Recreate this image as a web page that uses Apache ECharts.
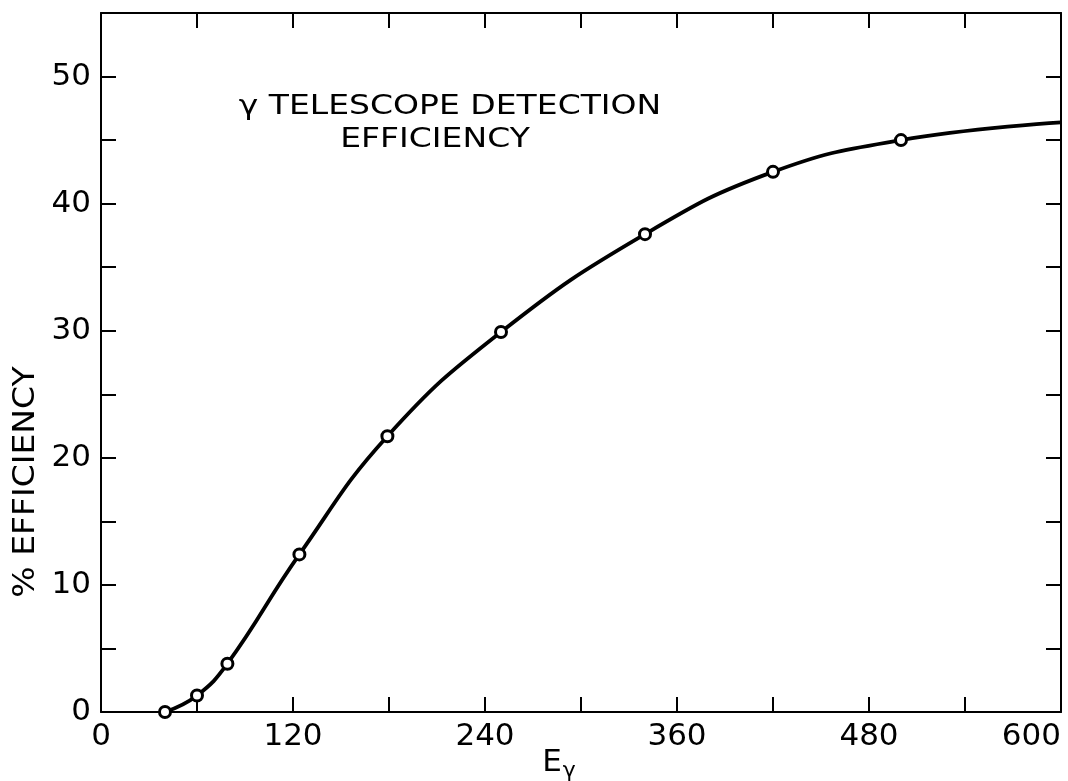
<!DOCTYPE html>
<html>
<head>
<meta charset="utf-8">
<script src="https://cdn.jsdelivr.net/npm/echarts@6/dist/echarts.min.js"></script>
<style>
  html, body { margin: 0; padding: 0; background: #fff; }
  #chart { width: 1068px; height: 781px; }
</style>
</head>
<body>
<div id="chart"></div>
<script>
// measured points (circles)
var energy = [40, 60, 79, 124, 179, 250, 340, 420, 500];
var efficiency = [0, 1.3, 3.8, 12.4, 21.7, 29.9, 37.6, 42.5, 45.0];
// where the drawn curve leaves the frame
var curveEndE = 600;
var curveEndEff = 46.4;

var xTicks = [0, 120, 240, 360, 480, 600];
var yTicks = [0, 10, 20, 30, 40, 50];

var FONT = '"DejaVu Sans", "Liberation Sans", sans-serif';

var points = energy.map(function (e, i) { return [e, efficiency[i]]; });
var curve = points.concat([[curveEndE, curveEndEff]]);

var lineColor = '#000';

function baseX(pos) {
    return {
        type: 'value',
        position: pos,
        min: 0,
        max: 600,
        interval: 60,
        splitLine: { show: false },
        axisLine: { show: true, onZero: false, lineStyle: { color: lineColor, width: 2 } },
        axisTick: { show: true, inside: true, length: 15, lineStyle: { color: lineColor, width: 2 } },
        axisLabel: {
            show: pos === 'bottom',
            margin: 9,
            color: '#000',
            fontFamily: FONT,
            fontSize: 31,
            alignMaxLabel: 'right',
            formatter: function (v) { return xTicks.indexOf(v) >= 0 ? String(v) : ''; }
        }
    };
}

function baseY(pos) {
    return {
        type: 'value',
        position: pos,
        min: 0,
        max: 55,
        interval: 5,
        splitLine: { show: false },
        axisLine: { show: true, onZero: false, lineStyle: { color: lineColor, width: 2 } },
        axisTick: { show: true, inside: true, length: 15, lineStyle: { color: lineColor, width: 2 } },
        axisLabel: {
            show: pos === 'left',
            margin: 10,
            color: '#000',
            fontFamily: FONT,
            fontSize: 31,
            formatter: function (v) { return yTicks.indexOf(v) >= 0 ? String(v) : ''; }
        }
    };
}

var chart = echarts.init(document.getElementById('chart'));
chart.setOption({
    backgroundColor: '#fff',
    animation: false,
    grid: { left: 101, right: 7, top: 13, bottom: 69, containLabel: false },
    xAxis: [baseX('bottom'), baseX('top')],
    yAxis: [baseY('left'), baseY('right')],
    graphic: [{
        type: 'text',
        x: 450,
        y: 107,
        scaleX: 1.27,
        style: {
            text: 'γ TELESCOPE DETECTION',
            font: '26px ' + FONT,
            fill: '#000',
            textAlign: 'center',
            textVerticalAlign: 'middle'
        }
    }, {
        type: 'text',
        x: 435,
        y: 140,
        scaleX: 1.27,
        style: {
            text: 'EFFICIENCY',
            font: '26px ' + FONT,
            fill: '#000',
            textAlign: 'center',
            textVerticalAlign: 'middle'
        }
    }, {
        type: 'text',
        x: 26,
        y: 482,
        rotation: Math.PI / 2,
        scaleX: 1.1,
        style: {
            text: '% EFFICIENCY',
            font: '30px ' + FONT,
            fill: '#000',
            textAlign: 'center',
            textVerticalAlign: 'middle'
        }
    }, {
        type: 'text',
        x: 559,
        y: 763,
        style: {
            text: '{e|E}{g|γ}',
            fill: '#000',
            textAlign: 'center',
            textVerticalAlign: 'middle',
            rich: {
                e: { fontFamily: FONT, fontSize: 31, fill: '#000' },
                g: { fontFamily: FONT, fontSize: 22, fill: '#000', padding: [16, 0, 0, 1] }
            }
        }
    }],
    series: [{
        type: 'line',
        xAxisIndex: 0,
        yAxisIndex: 0,
        data: curve,
        smooth: 0.45,
        showSymbol: false,
        symbol: 'none',
        lineStyle: { color: '#000', width: 3.8 },
        z: 3
    }, {
        type: 'scatter',
        xAxisIndex: 0,
        yAxisIndex: 0,
        data: points,
        symbol: 'circle',
        symbolSize: 11,
        itemStyle: { color: '#fff', borderColor: '#000', borderWidth: 3, opacity: 1 },
        z: 4
    }]
});
</script>
</body>
</html>
